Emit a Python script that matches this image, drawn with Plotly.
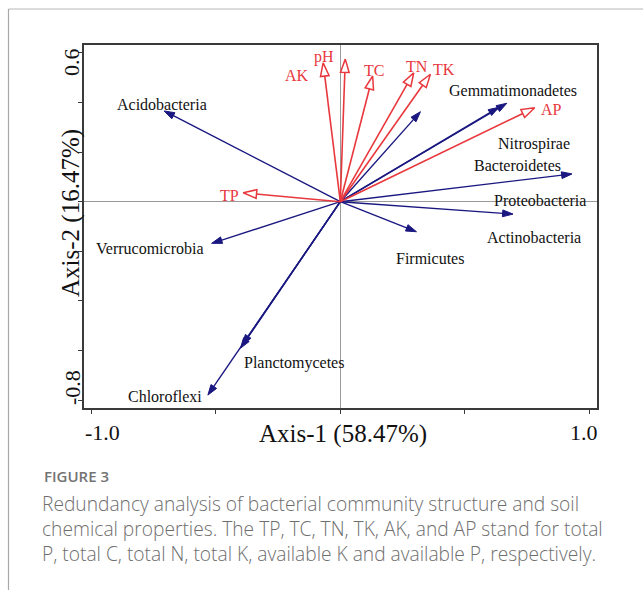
import plotly.graph_objects as go

# ---------------- data ----------------
env_names = ["pH", "AK", "TC", "TN", "TK", "AP", "TP"]
env_x = [0.020, -0.069, 0.130, 0.295, 0.362, 0.781, -0.390]
env_y = [0.575, 0.560, 0.507, 0.520, 0.514, 0.379, 0.036]

sp_names = ["Acidobacteria", "Bacteroidetes", "Gemmatimonadetes", "Nitrospirae",
            "Proteobacteria", "Actinobacteria", "Firmicutes", "Verrucomicrobia",
            "Planctomycetes", "Others", "Chloroflexi"]
sp_x = [-0.708, 0.322, 0.669, 0.637, 0.931, 0.694, 0.306, -0.517, -0.394, -0.401, -0.532]
sp_y = [0.366, 0.363, 0.397, 0.381, 0.112, -0.050, -0.121, -0.168, -0.578, -0.591, -0.780]

# label anchor positions (axis units)
sp_label_names = ["Acidobacteria", "Gemmatimonadetes", "Nitrospirae", "Bacteroidetes",
                  "Proteobacteria", "Actinobacteria", "Firmicutes", "Verrucomicrobia",
                  "Planctomycetes", "Chloroflexi"]
sp_label_x = [-0.717, 0.695, 0.777, 0.710, 0.802, 0.778, 0.361, -0.766, -0.188, -0.706]
sp_label_y = [0.394, 0.448, 0.233, 0.148, 0.004, -0.144, -0.231, -0.188, -0.652, -0.786]

env_label_x = [-0.066, -0.173, 0.137, 0.310, 0.418, 0.849, -0.444]
env_label_y = [0.585, 0.511, 0.531, 0.544, 0.534, 0.373, 0.027]

x_tick_vals = [-1.0, -0.5, 0.0, 0.5, 1.0]
y_tick_vals = [0.6, 0.4, 0.2, 0.0, -0.2, -0.4, -0.6, -0.8]
x_tick_text = {-1.0: "-1.0", 1.0: "1.0"}
y_tick_text = {0.6: "0.6", -0.8: "-0.8"}
x_title = "Axis-1 (58.47%)"
y_title = "Axis-2 (16.47%)"

caption_head = "FIGURE 3"
caption_lines = [
    "Redundancy analysis of bacterial community structure and soil",
    "chemical properties. The TP, TC, TN, TK, AK, and AP stand for total",
    "P, total C, total N, total K, available K and available P, respectively.",
]

# ---------------- layout constants ----------------
W, H = 643, 590
L, R, T, B = 84, 46, 45, 182
PW, PH = W - L - R, H - T - B
x_range = [-1.0297, 1.0313]
y_range = [-0.832, 0.632]

RED = "#e8383d"
BLUE = "#1a1880"
SERIF = "Liberation Serif, Times New Roman, serif"
SANS = "Open Sans, Lato, sans-serif"


def px_x(px):
    return (px - L) / PW


def px_y(py):
    return (H - B - py) / PH


def arrows(xs, ys, color, size, fill, head_lw, lw):
    X, Y, S = [], [], []
    for x, y in zip(xs, ys):
        X += [0, x, None]
        Y += [0, y, None]
        S += [0, size, 0]
    return go.Scatter(
        x=X, y=Y, mode="lines+markers",
        line=dict(color=color, width=lw),
        marker=dict(symbol="arrow", size=S, angleref="previous", color=fill,
                    opacity=1, line=dict(color=color, width=head_lw)),
        hoverinfo="skip", showlegend=False, cliponaxis=False,
    )


fig = go.Figure()
fig.add_trace(arrows(sp_x, sp_y, BLUE, 11, BLUE, 1, 1.4))
fig.add_trace(arrows(env_x, env_y, RED, 14, "white", 1.5, 1.6))

ann = []
for name, x, y in zip(sp_label_names, sp_label_x, sp_label_y):
    ann.append(dict(x=x, y=y, xref="x", yref="y", text=name, showarrow=False,
                    xanchor="center", yanchor="middle",
                    font=dict(family=SERIF, size=16, color="#111111")))
for name, x, y in zip(env_names, env_label_x, env_label_y):
    ann.append(dict(x=x, y=y, xref="x", yref="y", text=name, showarrow=False,
                    xanchor="center", yanchor="middle",
                    font=dict(family=SERIF, size=16, color=RED)))

# tick labels
x_shift = {-1.0: 11, 1.0: -5}
for v, t in x_tick_text.items():
    ann.append(dict(x=v, y=0, xref="x", yref="paper", text=t, showarrow=False,
                    xanchor="center", yanchor="middle", xshift=x_shift[v], yshift=-24,
                    font=dict(family=SERIF, size=22, color="#111111")))
y_shift = {0.6: -9, -0.8: 12}
for v, t in y_tick_text.items():
    ann.append(dict(x=0, y=v, xref="paper", yref="y", text=t, showarrow=False,
                    textangle=-90, xanchor="center", yanchor="middle",
                    xshift=-12, yshift=y_shift[v],
                    font=dict(family=SERIF, size=22, color="#111111")))
# axis titles
ann.append(dict(x=px_x(343), y=px_y(434), xref="paper", yref="paper", text=x_title,
                showarrow=False, xanchor="center", yanchor="middle",
                font=dict(family=SERIF, size=25, color="#111111")))
ann.append(dict(x=px_x(71), y=px_y(213), xref="paper", yref="paper", text=y_title,
                showarrow=False, textangle=-90, xanchor="center", yanchor="middle",
                font=dict(family=SERIF, size=25, color="#111111")))
# caption
ann.append(dict(x=px_x(42), y=px_y(476), xref="paper", yref="paper", text=caption_head,
                showarrow=False, xanchor="left", yanchor="middle",
                font=dict(family=SANS, size=15, color="#737373", weight=600)))
for i, line in enumerate(caption_lines):
    ann.append(dict(x=px_x(40), y=px_y(503 + 25 * i), xref="paper", yref="paper",
                    text=line, showarrow=False, xanchor="left", yanchor="middle",
                    font=dict(family=SANS, size=19.2, color="#6e6e6e", weight=300)))

shapes = [
    dict(type="line", xref="paper", yref="paper", x0=px_x(8.5), x1=px_x(643),
         y0=px_y(9), y1=px_y(9), line=dict(color="#cfcfcf", width=1.5), layer="below"),
    dict(type="line", xref="paper", yref="paper", x0=px_x(8.5), x1=px_x(8.5),
         y0=px_y(9), y1=px_y(590), line=dict(color="#a8a8a8", width=1.2), layer="below"),
]

axis_common = dict(showgrid=False, showline=True, mirror=True, linecolor="#3a3a3a",
                   linewidth=1.5, ticks="outside", ticklen=4, tickwidth=1.2,
                   tickcolor="#3a3a3a", showticklabels=False, zeroline=True,
                   zerolinecolor="#9a9a9a", zerolinewidth=1)

fig.update_layout(
    width=W, height=H, margin=dict(l=L, r=R, t=T, b=B, autoexpand=False),
    paper_bgcolor="white", plot_bgcolor="white",
    xaxis=dict(range=x_range, tickvals=x_tick_vals, **axis_common),
    yaxis=dict(range=y_range, tickvals=y_tick_vals, **axis_common),
    annotations=ann, shapes=shapes, showlegend=False,
)

fig.write_html("out.html")
